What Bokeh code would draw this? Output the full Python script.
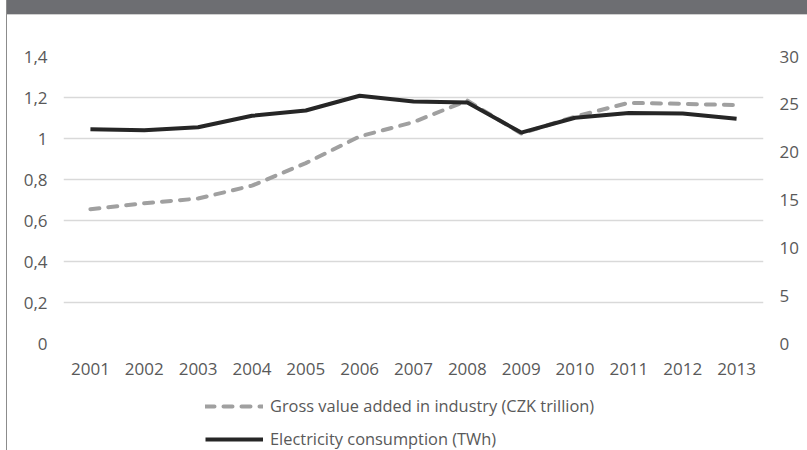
from bokeh.plotting import figure
from bokeh.models import (ColumnDataSource, Range1d, LinearAxis, FixedTicker,
                          CustomJSTickFormatter, Legend, LegendItem, Div, FactorRange)
from bokeh.layouts import column
from bokeh.embed import file_html
from bokeh.resources import INLINE

years = ["2001", "2002", "2003", "2004", "2005", "2006", "2007",
         "2008", "2009", "2010", "2011", "2012", "2013"]
gva = [0.655, 0.684, 0.707, 0.77, 0.88, 1.01, 1.08,
       1.185, 1.024, 1.107, 1.174, 1.169, 1.163]
electricity = [22.4, 22.3, 22.6, 23.8, 24.35, 25.9, 25.3,
               25.2, 22.05, 23.6, 24.1, 24.05, 23.5]
left_ticks = [0, 0.2, 0.4, 0.6, 0.8, 1.0, 1.2, 1.4]
right_ticks = [0, 5, 10, 15, 20, 25, 30]
gva_label = "Gross value added in industry (CZK trillion)"
el_label = "Electricity consumption (TWh)"

TXT = "#595959"
FONT = "Open Sans"
FS = "17px"
GVA_COLOR = "#a0a0a0"
EL_COLOR = "#262626"

src = ColumnDataSource(dict(year=years, gva=gva, el=electricity))

p = figure(x_range=FactorRange(*years), y_range=Range1d(0, 1.4),
           width=800, height=370, output_backend="svg", toolbar_location=None,
           min_border_left=56, min_border_right=44, min_border_top=41,
           min_border_bottom=42)
p.extra_y_ranges = {"right": Range1d(0, 30)}
p.outline_line_color = None
p.border_fill_color = "white"

ya = p.yaxis[0]
ya.ticker = FixedTicker(ticks=left_ticks)
ya.formatter = CustomJSTickFormatter(code="return (Math.round(tick*10)/10).toString().replace('.', ',');")
ra = LinearAxis(y_range_name="right", ticker=FixedTicker(ticks=right_ticks))
p.add_layout(ra, "right")
xa = p.xaxis[0]

for ax, st in ((ya, 10), (ra, 10), (xa, 13)):
    ax.axis_line_color = None
    ax.major_tick_line_color = None
    ax.minor_tick_line_color = None
    ax.major_label_standoff = st
    ax.major_label_text_color = TXT
    ax.major_label_text_font = FONT
    ax.major_label_text_font_size = FS

p.xgrid.grid_line_color = None
p.ygrid.grid_line_color = "#d9d9d9"
p.ygrid.grid_line_width = 1.5

p.line("year", "gva", source=src, line_color=GVA_COLOR, line_width=4,
       line_dash="9 9", line_cap="round")
p.line("year", "el", source=src, y_range_name="right",
       line_color=EL_COLOR, line_width=4)

# legend strip below the chart (its sample lines sit outside the visible range)
pl = figure(width=800, height=65, output_backend="svg", toolbar_location=None,
            x_range=Range1d(0, 1), y_range=Range1d(0, 1),
            min_border=0, min_border_left=0, min_border_right=0,
            min_border_top=0, min_border_bottom=0)
pl.axis.visible = False
pl.grid.visible = False
pl.outline_line_color = None
lg1 = pl.line(x=[-2, -1], y=[-2, -2], line_color=GVA_COLOR, line_width=4,
              line_dash="9 9", line_cap="round")
lg2 = pl.line(x=[-2, -1], y=[-2, -2], line_color=EL_COLOR, line_width=4)
legend = Legend(items=[LegendItem(label=gva_label, renderers=[lg1]),
                       LegendItem(label=el_label, renderers=[lg2])],
                location=(142, 0), orientation="vertical",
                padding=0, margin=0, spacing=10, glyph_width=58,
                glyph_height=20, label_height=20, label_standoff=7,
                border_line_color=None, background_fill_alpha=0,
                label_text_font=FONT, label_text_font_size="16.4px",
                label_text_color=TXT)
pl.add_layout(legend, "center")

header = Div(text="", width=800, height=15, margin=0,
             styles={"background-color": "#6d6e72",
                     "border-bottom": "1px solid #cfcfcf",
                     "box-sizing": "border-box"})

layout = column(header, p, pl, spacing=0, margin=0,
                styles={"margin-left": "6px", "border-left": "1px solid #8c8c8c"})

open("out.html", "w").write(file_html(layout, INLINE))
